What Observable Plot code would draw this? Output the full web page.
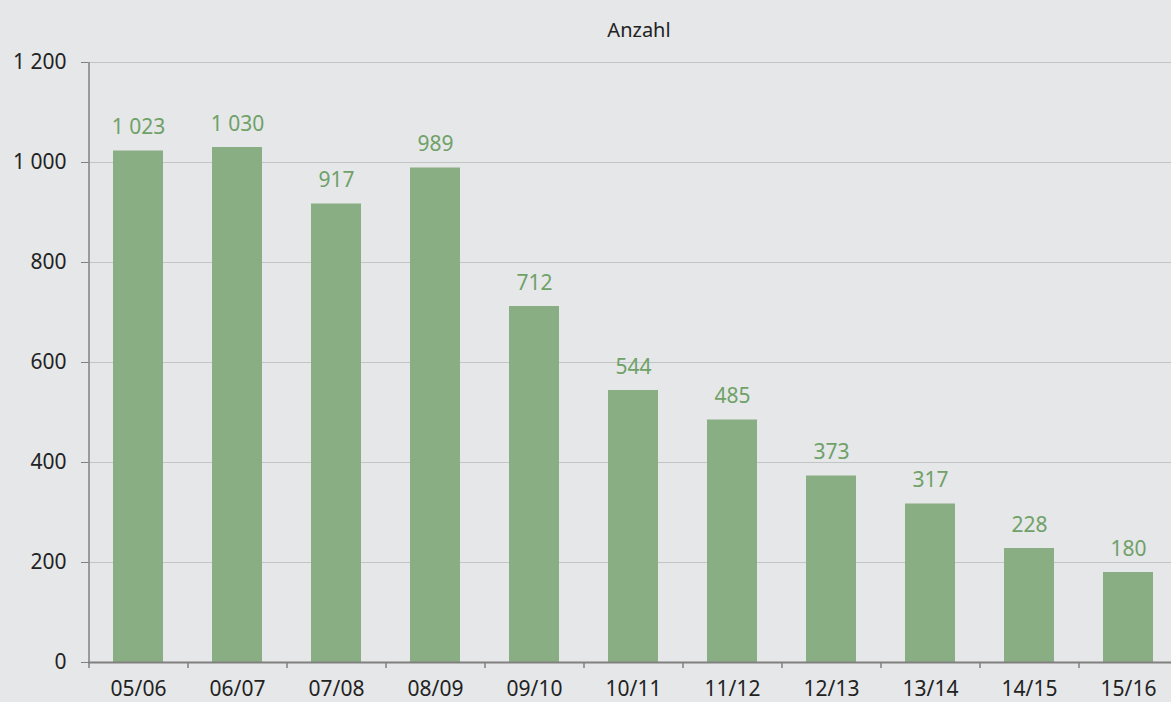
<!DOCTYPE html>
<html>
<head>
<meta charset="utf-8">
<script src="https://cdn.jsdelivr.net/npm/d3@7"></script>
<script src="https://cdn.jsdelivr.net/npm/@observablehq/plot@0.6"></script>
<style>
  html, body { margin: 0; padding: 0; background: #e6e7e9; }
  #chart svg { display: block; }
</style>
</head>
<body>
<div id="chart"></div>
<script>
const categories = ["05/06","06/07","07/08","08/09","09/10","10/11","11/12","12/13","13/14","14/15","15/16"];
const values = [1023, 1030, 917, 989, 712, 544, 485, 373, 317, 228, 180];
const yTicks = [0, 200, 400, 600, 800, 1000, 1200];
const title = "Anzahl";

const data = categories.map((c, i) => ({cat: c, value: values[i]}));
const fmt = v => d3.format(",")(v).replace(/,/g, " ");

const W = 1171, H = 702;
const mLeft = 88, mTop = 62, mBottom = 662, xRight = 1177;
const step = (xRight - mLeft) / categories.length;

const chart = Plot.plot({
  width: W,
  height: H,
  marginLeft: mLeft,
  marginTop: mTop,
  marginBottom: H - mBottom,
  marginRight: 0,
  style: {background: "#e6e7e9", fontFamily: "'Noto Sans', sans-serif", fontSize: "20px", color: "#222"},
  x: {domain: categories, range: [mLeft, xRight], paddingInner: 0.5, paddingOuter: 0.25, align: 0.5, axis: null, label: null},
  y: {domain: [0, 1200], range: [mBottom, mTop], axis: null, label: null},
  marks: [
    Plot.ruleY(yTicks.filter(d => d > 0), {stroke: "#c3c4c6", strokeWidth: 1}),
    Plot.barY(data, {x: "cat", y: "value", fill: "#8aae83"}),
    Plot.text(data, {x: "cat", y: "value", text: d => fmt(d.value), dy: -17, lineAnchor: "bottom", fill: "#6fa168", fontSize: 21}),
    Plot.axisY(yTicks, {tickSize: 7, tickPadding: 15, tickFormat: fmt, stroke: "#808080", fill: "#222", fontSize: 21, label: null}),
    Plot.ruleX(categories.slice(0, 1), {x: d => d, y1: 0, y2: 1200, dx: -step / 2, stroke: "#808080", strokeWidth: 1.5}),
    Plot.ruleX(categories, {x: d => d, y1: 0, y2: -12, dx: -step / 2, stroke: "#808080", strokeWidth: 1.5}),
    Plot.ruleY([0], {stroke: "#808080", strokeWidth: 2}),
    Plot.axisX({tickSize: 0, tickPadding: 19, fill: "#222", fontSize: 21, label: null}),
    Plot.text([title], {frameAnchor: "top", dy: -40, dx: 9, fontSize: 20, fill: "#222"})
  ]
});
document.getElementById("chart").appendChild(chart);
</script>
</body>
</html>
